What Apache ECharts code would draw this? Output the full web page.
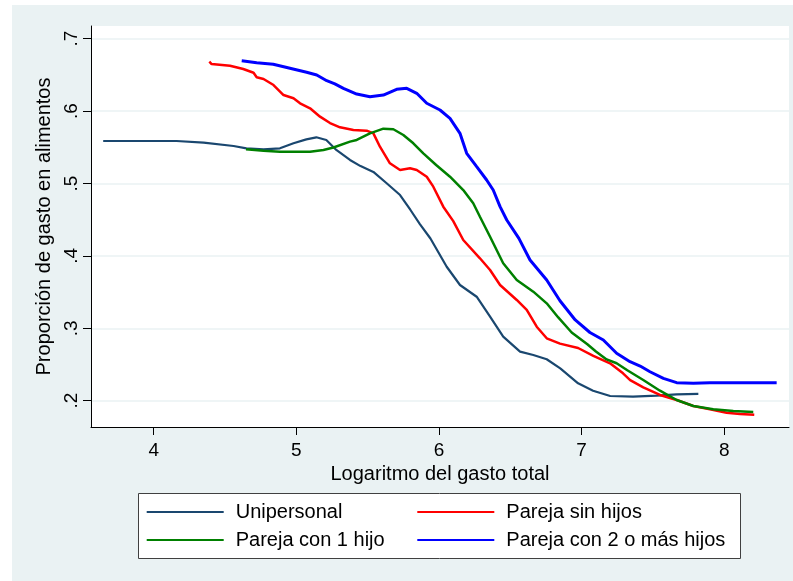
<!DOCTYPE html>
<html><head><meta charset="utf-8">
<script src="https://cdn.jsdelivr.net/npm/echarts@6/dist/echarts.min.js"></script>
<style>
html,body{margin:0;padding:0;background:#fff;}
#bg{position:absolute;left:12px;top:5px;width:781px;height:576px;background:#eaf2f3;}
#chart{position:absolute;left:0;top:0;width:793px;height:581px;}
</style></head><body>
<div id="bg"></div><div id="chart"></div>
<script>
const seriesNames = ['Unipersonal', 'Pareja sin hijos', 'Pareja con 1 hijo', 'Pareja con 2 o más hijos'];
const xTicks = [4, 5, 6, 7, 8];
const yTicks = [0.2, 0.3, 0.4, 0.5, 0.6, 0.7];

const uniX = [3.646, 3.90, 4.16, 4.35, 4.56, 4.65, 4.77, 4.885, 4.98, 5.07, 5.14, 5.21, 5.28, 5.376, 5.45, 5.54, 5.633, 5.727, 5.80, 5.866, 5.94, 6.054, 6.147, 6.264, 6.358, 6.45, 6.568, 6.661, 6.755, 6.85, 6.975, 7.08, 7.20, 7.36, 7.526, 7.666, 7.818];
const uniY = [0.5587, 0.5587, 0.5587, 0.5564, 0.5518, 0.5486, 0.5472, 0.5486, 0.5555, 0.561, 0.5638, 0.560, 0.5463, 0.5325, 0.524, 0.516, 0.5003, 0.4841, 0.4634, 0.444, 0.424, 0.385, 0.3598, 0.3436, 0.316, 0.2884, 0.2677, 0.2631, 0.2572, 0.2447, 0.224, 0.2138, 0.2065, 0.2055, 0.2069, 0.2088, 0.2093];

const sinX = [4.39, 4.406, 4.535, 4.628, 4.70, 4.722, 4.77, 4.84, 4.91, 4.98, 5.026, 5.096, 5.166, 5.236, 5.306, 5.40, 5.493, 5.54, 5.586, 5.656, 5.727, 5.797, 5.844, 5.914, 5.96, 6.03, 6.10, 6.17, 6.287, 6.358, 6.428, 6.545, 6.615, 6.685, 6.755, 6.848, 6.975, 7.082, 7.199, 7.29, 7.34, 7.432, 7.549, 7.666, 7.783, 7.899, 8.016, 8.11, 8.21];
const sinY = [0.6682, 0.665, 0.6627, 0.6581, 0.653, 0.6467, 0.6444, 0.636, 0.6222, 0.6177, 0.6108, 0.6039, 0.5923, 0.5835, 0.5776, 0.5739, 0.573, 0.5693, 0.5508, 0.5279, 0.5187, 0.521, 0.5187, 0.5094, 0.4956, 0.468, 0.448, 0.422, 0.3967, 0.3805, 0.3598, 0.3391, 0.3253, 0.3022, 0.2862, 0.2788, 0.2728, 0.262, 0.2517, 0.2378, 0.2285, 0.2185, 0.2079, 0.201, 0.1927, 0.1881, 0.1834, 0.1816, 0.1807];

const unoX = [4.647, 4.77, 4.885, 5.096, 5.19, 5.26, 5.376, 5.423, 5.516, 5.61, 5.68, 5.75, 5.82, 5.89, 5.98, 6.077, 6.17, 6.24, 6.287, 6.358, 6.45, 6.545, 6.661, 6.755, 6.836, 6.93, 7.04, 7.10, 7.175, 7.245, 7.32, 7.432, 7.549, 7.666, 7.783, 7.922, 8.063, 8.203];
const unoY = [0.5472, 0.5453, 0.5439, 0.5439, 0.5463, 0.5497, 0.5578, 0.5601, 0.5693, 0.5757, 0.5749, 0.567, 0.5555, 0.5417, 0.5256, 0.5094, 0.491, 0.4727, 0.4541, 0.4265, 0.3898, 0.3667, 0.3506, 0.3345, 0.315, 0.2942, 0.278, 0.268, 0.257, 0.2517, 0.242, 0.2286, 0.2138, 0.201, 0.1927, 0.1881, 0.1858, 0.1844];

const dosX = [4.617, 4.722, 4.838, 4.955, 5.072, 5.143, 5.213, 5.27, 5.33, 5.423, 5.516, 5.61, 5.703, 5.774, 5.844, 5.914, 6.007, 6.077, 6.147, 6.194, 6.264, 6.334, 6.38, 6.428, 6.475, 6.56, 6.638, 6.755, 6.848, 6.955, 7.058, 7.152, 7.245, 7.339, 7.41, 7.479, 7.573, 7.666, 7.783, 7.899, 8.133, 8.367];
const dosY = [0.6696, 0.6669, 0.6646, 0.6591, 0.6536, 0.6499, 0.642, 0.6376, 0.6315, 0.6236, 0.6199, 0.6222, 0.6301, 0.6315, 0.6246, 0.6108, 0.6015, 0.59, 0.5693, 0.5417, 0.5232, 0.5048, 0.491, 0.468, 0.4496, 0.4242, 0.3943, 0.3667, 0.338, 0.3115, 0.2942, 0.2838, 0.2655, 0.2539, 0.2479, 0.24, 0.2309, 0.2249, 0.224, 0.2249, 0.2249, 0.2249];

const seriesColors = ['#1a476f', '#ff0000', '#008000', '#0000ff'];
const seriesWidths = [2.2, 2.5, 2.5, 3];
const xsList = [uniX, sinX, unoX, dosX];
const ysList = [uniY, sinY, unoY, dosY];

const FONT = '"Liberation Sans", Arial, sans-serif';
const fmt = v => {
  const s = (+v).toFixed(1);
  return s.replace(/^0/, '');
};

const series = seriesNames.map((name, i) => ({
  name: name,
  type: 'line',
  showSymbol: false,
  symbol: 'none',
  color: seriesColors[i],
  lineStyle: { width: seriesWidths[i], color: seriesColors[i] },
  data: xsList[i].map((x, k) => [x, ysList[i][k]]),
  animation: false,
  z: 2 + i
}));

const legendCommon = {
  orient: 'vertical',
  icon: 'rect',
  itemWidth: 77,
  itemHeight: 2,
  itemGap: 4,
  padding: 0,
  selectedMode: false,
  textStyle: { fontFamily: FONT, fontSize: 20, color: '#000', lineHeight: 24, padding: [0, 0, 0, 7] }
};

const chart = echarts.init(document.getElementById('chart'), null, { renderer: 'canvas' });
chart.setOption({
  backgroundColor: 'transparent',
  animation: false,
  textStyle: { fontFamily: FONT },
  grid: {
    left: 91, top: 26, right: 4, bottom: 154,
    show: true, backgroundColor: '#ffffff', borderWidth: 0
  },
  xAxis: {
    type: 'value',
    min: 3.5605, max: 8.4535,
    name: 'Logaritmo del gasto total',
    nameLocation: 'middle',
    nameGap: 34,
    nameTextStyle: { fontFamily: FONT, fontSize: 20, color: '#000' },
    axisLine: { show: true, lineStyle: { color: '#000', width: 1 } },
    axisTick: { show: true, length: 8, customValues: xTicks, lineStyle: { color: '#000', width: 1 } },
    axisLabel: { customValues: xTicks, fontFamily: FONT, fontSize: 19, color: '#000', margin: 14 },
    splitLine: { show: false }
  },
  yAxis: {
    type: 'value',
    min: 0.16367, max: 0.71754,
    name: 'Proporción de gasto en alimentos',
    nameLocation: 'middle',
    nameGap: 34,
    nameRotate: 90,
    nameTextStyle: { fontFamily: FONT, fontSize: 20, color: '#000' },
    axisLine: { show: true, lineStyle: { color: '#000', width: 1 } },
    axisTick: { show: true, length: 8, customValues: yTicks, lineStyle: { color: '#000', width: 1 } },
    axisLabel: { customValues: yTicks, rotate: 90, fontFamily: FONT, fontSize: 19, color: '#000', margin: 10, formatter: fmt },
    splitLine: { show: true, lineStyle: { color: '#eaf2f3', width: 1.5 } }
  },
  legend: [
    Object.assign({}, legendCommon, { left: 146.7, top: 500, data: [seriesNames[0], seriesNames[2]] }),
    Object.assign({}, legendCommon, { left: 417.3, top: 500, data: [seriesNames[1], seriesNames[3]] })
  ],
  graphic: [{
    type: 'rect',
    z: 0,
    shape: { x: 138.5, y: 493.5, width: 602, height: 65 },
    style: { fill: '#ffffff', stroke: '#404040', lineWidth: 1 }
  }],
  series: series
});
</script>
</body></html>
